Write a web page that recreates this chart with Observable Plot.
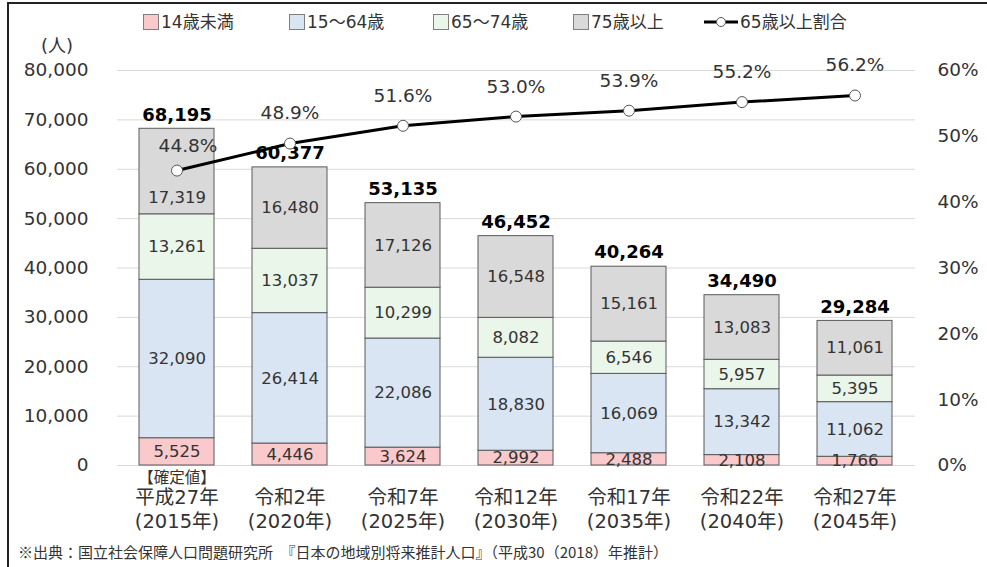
<!DOCTYPE html>
<html><head><meta charset="utf-8">
<script src="https://cdn.jsdelivr.net/npm/d3@7"></script>
<script src="https://cdn.jsdelivr.net/npm/@observablehq/plot@0.6"></script>
<style>
body{margin:0;background:#fff;}
#wrap{position:relative;width:987px;height:567px;overflow:hidden;background:#fff;font-family:"DejaVu Sans","Noto Sans CJK JP",sans-serif;color:#333;}
#frame{position:absolute;left:7px;top:2px;width:1000px;height:600px;border-top:2px solid #222;border-left:2px solid #222;pointer-events:none;}
#legend{position:relative;height:36px;}
.lg{position:absolute;top:12px;font-size:17px;line-height:20px;white-space:nowrap;display:flex;align-items:center;}
.sw{display:inline-block;width:14px;height:14px;border:1px solid #7f7f7f;margin-right:2px;}
#unit{position:absolute;left:41px;top:31px;font-size:18px;}
#caption{height:27px;font-family:"Noto Sans CJK JP",sans-serif;font-size:15px;padding-left:18px;line-height:24px;color:#333;white-space:nowrap;}
svg{display:block;}
</style></head>
<body>
<div id="wrap">
<div id="legend"></div>
<div id="chart"></div>
<div id="caption"></div>
<div id="frame"></div>
</div>
<script>
const years = ["平成27年\n(2015年)","令和2年\n(2020年)","令和7年\n(2025年)","令和12年\n(2030年)","令和17年\n(2035年)","令和22年\n(2040年)","令和27年\n(2045年)"];
const groups = ["14歳未満","15～64歳","65～74歳","75歳以上"];
const under14 = [5525,4446,3624,2992,2488,2108,1766];
const age15to64 = [32090,26414,22086,18830,16069,13342,11062];
const age65to74 = [13261,13037,10299,8082,6546,5957,5395];
const age75plus = [17319,16480,17126,16548,15161,13083,11061];
const totals = [68195,60377,53135,46452,40264,34490,29284];
const ratio65 = [44.8,48.9,51.6,53.0,53.9,55.2,56.2];
const yTicks = [0,10000,20000,30000,40000,50000,60000,70000,80000];
const pctTicks = [0,10,20,30,40,50,60];
const colors = ["#f9c9cc","#dae5f3","#eaf6ea","#d9d9d9"];
const lineLabel = "65歳以上割合";
const confirmedNote = "【確定値】";
const captionText = "※出典：国立社会保障人口問題研究所　『日本の地域別将来推計人口』（平成30（2018）年推計）";

const series = [under14, age15to64, age65to74, age75plus];
const rows = [];
years.forEach((yr,i)=>series.forEach((s,g)=>rows.push({year:yr, group:groups[g], value:s[i], i})));
const totalRows = years.map((yr,i)=>({year:yr,total:totals[i]}));
const pctRows = years.map((yr,i)=>({year:yr,p:ratio65[i],i}));
const toLeft = p => p*80000/60;
const fmt = d3.format(",");
// the first bar's 75+ label and 44.8% label are nudged to avoid the line point
const nudged = d => d.i === 0 && d.group === groups[3];

// legend
const legend = document.getElementById("legend");
const lgPos = [143,289,433,573];
groups.forEach((g,i)=>{
  const el=document.createElement("div");el.className="lg";el.style.left=lgPos[i]+"px";
  el.innerHTML=`<span class="sw" style="background:${colors[i]}"></span><span>${g}</span>`;
  legend.appendChild(el);
});
const le=document.createElement("div");le.className="lg";le.style.left="702px";
le.innerHTML=`<svg width="38" height="14"><line x1="2" y1="7" x2="36" y2="7" stroke="#000" stroke-width="3"/><circle cx="19" cy="7" r="4.5" fill="#fff" stroke="#555" stroke-width="1"/></svg><span>${lineLabel}</span>`;
legend.appendChild(le);
const unit=document.createElement("div");unit.id="unit";unit.textContent="(人)";legend.appendChild(unit);
document.getElementById("caption").textContent=captionText;

const font = '"DejaVu Sans","Noto Sans CJK JP",sans-serif';
const chart = Plot.plot({
  width:987, height:504,
  marginTop:34, marginBottom:75, marginLeft:117, marginRight:72,
  style:{fontFamily:font, fontSize:"17px", color:"#333", background:"#fff"},
  x:{domain:years, paddingInner:0.333, paddingOuter:0.1667, axis:null},
  y:{domain:[0,80000], axis:null},
  color:{domain:groups, range:colors},
  marks:[
    Plot.gridY(yTicks,{stroke:"#d9d9d9", strokeOpacity:1}),
    Plot.axisY({ticks:yTicks, tickFormat:fmt, tickSize:0, tickPadding:29, fontSize:18.5, fill:"#333"}),
    Plot.text(pctTicks,{y:d=>toLeft(d), text:d=>d+"%", frameAnchor:"right", textAnchor:"start", dx:22, fontSize:18.5, fill:"#333"}),
    Plot.barY(rows,{x:"year", y:"value", fill:"group", stroke:"#5a5a5a", strokeWidth:1}),
    Plot.text(rows, Plot.stackY({x:"year", y:"value", z:"group", text:d=>nudged(d)?null:fmt(d.value), fontSize:16.5, fill:"#333"})),
    Plot.text(rows, Plot.stackY({x:"year", y:"value", z:"group", text:d=>nudged(d)?fmt(d.value):null, dy:26, fontSize:16.5, fill:"#333"})),
    Plot.text(totalRows,{x:"year", y:"total", text:d=>fmt(d.total), dy:-14, fontSize:18, fontWeight:"bold", fill:"#000"}),
    Plot.line(pctRows,{x:"year", y:d=>toLeft(d.p), stroke:"#000", strokeWidth:3}),
    Plot.dot(pctRows,{x:"year", y:d=>toLeft(d.p), r:5.5, fill:"#fff", stroke:"#555", strokeWidth:1}),
    Plot.text(pctRows,{x:"year", y:d=>toLeft(d.p), text:d=>d.i===0?null:d.p.toFixed(1)+"%", dy:-30, fontSize:18.5, fill:"#333"}),
    Plot.text(pctRows,{x:"year", y:d=>toLeft(d.p), text:d=>d.i===0?d.p.toFixed(1)+"%":null, dx:11, dy:-24, fontSize:18.5, fill:"#333"}),
    Plot.text(years,{x:d=>d, text:d=>d, frameAnchor:"bottom", lineAnchor:"top", dy:22, lineHeight:1.2, fontSize:19.5, fill:"#333"}),
    Plot.text([years[0]],{x:d=>d, text:()=>confirmedNote, frameAnchor:"bottom", dy:17, fontSize:15.5, fill:"#333"})
  ]
});
document.getElementById("chart").appendChild(chart);
</script>
</body></html>
